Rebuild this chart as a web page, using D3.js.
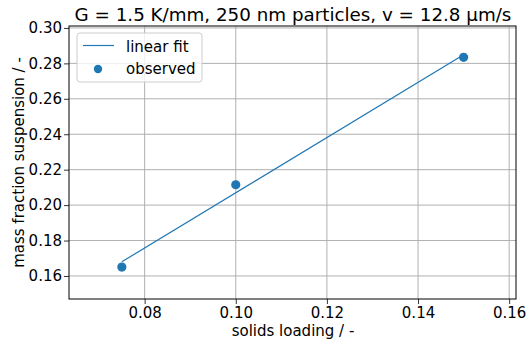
<!DOCTYPE html>
<html>
<head>
<meta charset="utf-8">
<script src="https://cdn.jsdelivr.net/npm/d3@7"></script>
<style>
  body { margin: 0; background: #fff; }
  text { font-family: "DejaVu Sans", sans-serif; fill: #000; }
</style>
</head>
<body>
<div id="chart"></div>
<script>
// observed points
const loading = [0.075, 0.10, 0.15];
const massFraction = [0.165, 0.2115, 0.2834];

// linear fit at its two ends
const fitX = [0.075, 0.15];
const fitY = [0.168, 0.2849];

const xTicks = [0.08, 0.10, 0.12, 0.14, 0.16];
const yTicks = [0.16, 0.18, 0.20, 0.22, 0.24, 0.26, 0.28, 0.30];

const W = 526, H = 344;
const mLeft = 69, mRight = 516, mTop = 26, mBottom = 299;
const blue = '#1f77b4';
const fs = '15px';

const svg = d3.select('#chart').append('svg')
  .attr('width', W).attr('height', H);

const x = d3.scaleLinear().domain([0.0634, 0.1615]).range([mLeft, mRight]);
const y = d3.scaleLinear().domain([0.147, 0.3011]).range([mBottom, mTop]);

// grid
svg.append('g').selectAll('line').data(xTicks).join('line')
  .attr('x1', d => x(d)).attr('x2', d => x(d))
  .attr('y1', mTop).attr('y2', mBottom)
  .attr('stroke', '#b0b0b0').attr('stroke-width', 1);
svg.append('g').selectAll('line').data(yTicks).join('line')
  .attr('x1', mLeft).attr('x2', mRight)
  .attr('y1', d => y(d)).attr('y2', d => y(d))
  .attr('stroke', '#b0b0b0').attr('stroke-width', 1);

// axes
const xAxis = svg.append('g')
  .attr('transform', `translate(0,${mBottom})`)
  .call(d3.axisBottom(x).tickValues(xTicks).tickFormat(d3.format('.2f'))
    .tickSize(5).tickPadding(3));
const yAxis = svg.append('g')
  .attr('transform', `translate(${mLeft},0)`)
  .call(d3.axisLeft(y).tickValues(yTicks).tickFormat(d3.format('.2f'))
    .tickSize(5).tickPadding(2));
[xAxis, yAxis].forEach(g => {
  g.select('.domain').remove();
  g.selectAll('text').style('font-size', fs).attr('font-family', 'DejaVu Sans');
  g.selectAll('line').attr('stroke', '#000').attr('stroke-width', 0.8);
});
xAxis.selectAll('text').attr('dy', '0.75em');

// spines
svg.append('rect')
  .attr('x', mLeft).attr('y', mTop)
  .attr('width', mRight - mLeft).attr('height', mBottom - mTop)
  .attr('fill', 'none').attr('stroke', '#000').attr('stroke-width', 1);

// fit line
svg.append('path')
  .datum(d3.zip(fitX, fitY))
  .attr('d', d3.line().x(d => x(d[0])).y(d => y(d[1])))
  .attr('fill', 'none').attr('stroke', blue).attr('stroke-width', 1.2);

// observed points
svg.append('g').selectAll('circle').data(d3.zip(loading, massFraction)).join('circle')
  .attr('cx', d => x(d[0])).attr('cy', d => y(d[1]))
  .attr('r', 4.6).attr('fill', blue);

// titles
svg.append('text')
  .attr('x', (mLeft + mRight) / 2 + 0.5).attr('y', 21)
  .attr('text-anchor', 'middle').style('font-size', '18.3px')
  .text('G = 1.5 K/mm, 250 nm particles, v = 12.8 μm/s');
svg.append('text')
  .attr('x', 293).attr('y', 336)
  .attr('text-anchor', 'middle').style('font-size', fs)
  .text('solids loading / -');
svg.append('text')
  .attr('transform', `translate(24,${(mTop + mBottom) / 2}) rotate(-90)`)
  .attr('text-anchor', 'middle').style('font-size', fs)
  .text('mass fraction suspension / -');

// legend
const lg = svg.append('g');
lg.append('rect')
  .attr('x', 77).attr('y', 33).attr('width', 125).attr('height', 49)
  .attr('rx', 3).attr('fill', '#fff').attr('fill-opacity', 0.8)
  .attr('stroke', '#cccccc').attr('stroke-width', 1);
lg.append('line')
  .attr('x1', 83).attr('x2', 114).attr('y1', 45.5).attr('y2', 45.5)
  .attr('stroke', blue).attr('stroke-width', 1.2);
lg.append('text').attr('x', 126).attr('y', 51.5)
  .style('font-size', fs).text('linear fit');
lg.append('circle').attr('cx', 98).attr('cy', 69).attr('r', 4.2).attr('fill', blue);
lg.append('text').attr('x', 126).attr('y', 73.5)
  .style('font-size', fs).text('observed');
</script>
</body>
</html>
